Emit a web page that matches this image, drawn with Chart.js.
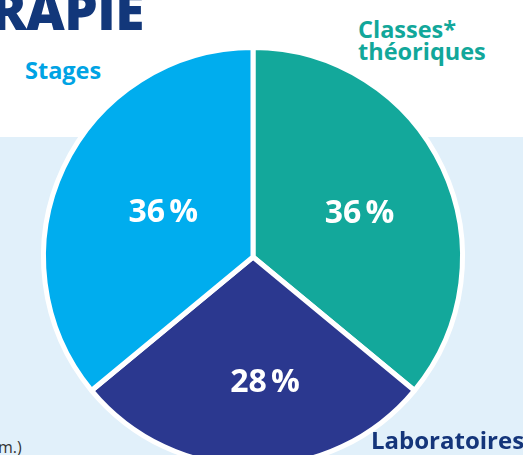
<!DOCTYPE html>
<html>
<head>
<meta charset="utf-8">
<script src="https://cdn.jsdelivr.net/npm/chart.js@4.4.1/dist/chart.umd.min.js"></script>
<style>
  html, body { margin: 0; padding: 0; width: 523px; height: 455px; overflow: hidden; background: #fff; }
  body { position: relative; font-family: 'Open Sans', 'Noto Sans', sans-serif; }
  .panel { position: absolute; left: 0; top: 137px; width: 523px; height: 318px; background: #e1f0fa; }
  .wrap { position: absolute; left: 0; top: 0; width: 523px; height: 480px; }
  .lbl { position: absolute; font-weight: 700; white-space: nowrap; line-height: 1; }
  .title { left: -9px; top: -17px; font-size: 53px; color: #12377a; letter-spacing: -0.5px; font-weight: 800; }
  .stages { left: 25px; top: 59px; font-size: 23.5px; color: #00a3e4; }
  .classes { left: 358px; top: 18px; font-size: 23.5px; color: #12a79a; line-height: 22px; }
  .labo { left: 371px; top: 428px; font-size: 24px; color: #14357a; }
  .note { position: absolute; left: -2px; top: 436px; font-size: 16px; color: #333; }
</style>
</head>
<body>
<div class="panel"></div>
<div class="lbl title">RAPIE</div>
<div class="lbl stages">Stages</div>
<div class="lbl classes">Classes*<br>théoriques</div>
<div class="note">m.)</div>
<div class="wrap"><canvas id="pie" width="523" height="480"></canvas></div>
<div class="lbl labo">Laboratoires</div>
<script>
'use strict';

// ── 데이터 ──────────────────────────────────────────────
var categories = ['Classes théoriques', 'Laboratoires', 'Stages'];
var shares     = [36, 28, 36];
var sliceColors = ['#13a89b', '#2b388f', '#00adee'];

// 퍼센트 라벨 (조각 안쪽)
var pctLabels = {
  id: 'pctLabels',
  afterDatasetsDraw: function (chart, args, opts) {
    var ctx = chart.ctx;
    var meta = chart.getDatasetMeta(0);
    ctx.save();
    ctx.fillStyle = '#fff';
    ctx.font = '700 32px "Open Sans", "Noto Sans", sans-serif';
    ctx.textAlign = 'center';
    ctx.textBaseline = 'middle';
    for (var i = 0; i < meta.data.length; i++) {
      var p = meta.data[i].getProps(['x', 'y', 'startAngle', 'endAngle', 'outerRadius'], true);
      var mid = (p.startAngle + p.endAngle) / 2;
      var r = p.outerRadius * opts.radius[i];
      var tx = p.x + Math.cos(mid) * r + opts.dx[i];
      var ty = p.y + Math.sin(mid) * r + opts.dy[i];
      ctx.fillText(chart.data.datasets[0].data[i] + '\u202F%', tx, ty);
    }
    ctx.restore();
  }
};

new Chart(document.getElementById('pie').getContext('2d'), {
  type: 'pie',
  data: {
    labels: categories,
    datasets: [{
      data: shares,
      backgroundColor: sliceColors,
      borderColor: '#fff',
      borderWidth: 5
    }]
  },
  options: {
    responsive: false,
    animation: false,
    layout: { padding: { left: 41, right: 58, top: 45, bottom: 11 } },
    plugins: {
      legend: { display: false },
      tooltip: { enabled: false },
      pctLabels: { radius: [0.53, 0.6, 0.5], dx: [6, 12, 5], dy: [4, 0, 0] }
    }
  },
  plugins: [pctLabels]
});
</script>
</body>
</html>
